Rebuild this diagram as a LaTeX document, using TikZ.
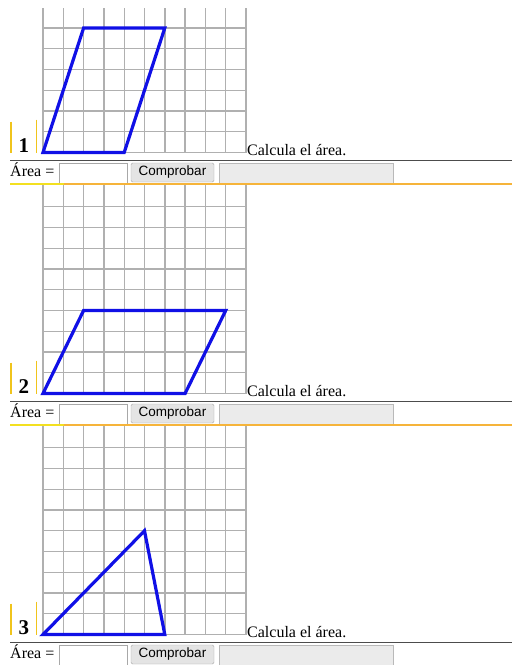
\documentclass[tikz,border=0pt]{standalone}
\usepackage{fontspec}
\setmainfont{Liberation Serif}
\setsansfont{Liberation Sans}
\usepackage{xcolor}
\definecolor{gridgray}{HTML}{B0B0B0}
\definecolor{figblue}{HTML}{1010E6}
\definecolor{bargold}{HTML}{F0C41C}
\definecolor{lineyellow}{HTML}{F3E020}
\definecolor{lineorange}{HTML}{F6B43A}
\definecolor{btnfill}{HTML}{E4E4E4}
\definecolor{boxfill}{HTML}{EBEBEB}
\definecolor{bordergray}{HTML}{A8A8A8}

\begin{document}
\begin{tikzpicture}[x=1pt,y=-1pt]
	\tikzstyle{gridline} = [draw=gridgray, line width=1.4pt]
	\tikzstyle{figure} = [draw=figblue, line width=3.2pt, line join=miter]
	\tikzstyle{bar} = [draw=bargold, line width=1.5pt]
	\tikzstyle{numlabel} = [inner sep=0pt, anchor=base, font=\fontsize{21}{24}\selectfont\bfseries]
	\tikzstyle{task} = [inner sep=0pt, anchor=base west, font=\fontsize{16}{19}\selectfont]
	\tikzstyle{field} = [rectangle, minimum width=68pt, minimum height=20pt, inner sep=0pt, draw=bordergray, fill=white]
	\tikzstyle{btn} = [rectangle, rounded corners=1.5pt, minimum width=83pt, minimum height=19pt, inner sep=0pt, draw=bordergray, fill=btnfill, font=\sffamily\fontsize{13.5}{15}\selectfont]
	\tikzstyle{result} = [rectangle, minimum width=174pt, minimum height=20pt, inner sep=0pt, draw=bordergray!80, fill=boxfill]
	\useasboundingbox (0,0) rectangle (512,665);

	% grids
	\foreach \base/\top/\rows in {152.5/6.96/6, 393.5/10.05/9, 634.5/10.05/9}{
		\begin{scope}[shift={(43,\base)}, x=20.3pt, y=20.75pt]
			\foreach \i in {0,...,10}
				\draw[gridline] (\i,0) -- (\i,\top);
			\foreach \j in {0,...,\rows}
				\draw[gridline] (0,\j) -- (10,\j);
		\end{scope}
	}

	% figures
	\begin{scope}[shift={(43,152.5)}, x=20.3pt, y=20.75pt]
		\draw[figure] (0,0) -- (4,0) -- (6,6) -- (2,6) -- cycle;
	\end{scope}
	\begin{scope}[shift={(43,393.5)}, x=20.3pt, y=20.75pt]
		\draw[figure] (0,0) -- (7,0) -- (9,4) -- (2,4) -- cycle;
	\end{scope}
	\begin{scope}[shift={(43,634.5)}, x=20.3pt, y=20.75pt]
		\draw[figure] (0,0) -- (6,0) -- (5,5) -- cycle;
	\end{scope}

	% labels and answer rows
	\foreach \n/\base in {1/152.5, 2/393.5, 3/634.5}{
		\draw[bar] (11,\base-31) -- (11,\base);
		\draw[bar] (36.7,\base-33) -- (36.7,\base);
		\node(num\n)[numlabel] at (24,\base) {\n};
		\node(calc\n)[task] at (247,\base+2.5) {Calcula el área.};
		\draw[draw=black!70, line width=1pt] (10,\base+8) -- (512,\base+8);
		\node(area\n)[task] at (10,\base+23.5) {Área =};
		\node(input\n)[field] at (93,\base+20.5) {};
		\node(check\n)[btn] at (172.5,\base+20) {Comprobar};
		\node(answer\n)[result] at (306,\base+20.5) {};
	}
	\foreach \base in {152.5, 393.5}{
		\draw[draw=lineyellow, line width=2pt] (10,\base+31) -- (64,\base+31);
		\draw[draw=lineorange, line width=2pt] (64,\base+31) -- (512,\base+31);
	}
\end{tikzpicture}
\end{document}
